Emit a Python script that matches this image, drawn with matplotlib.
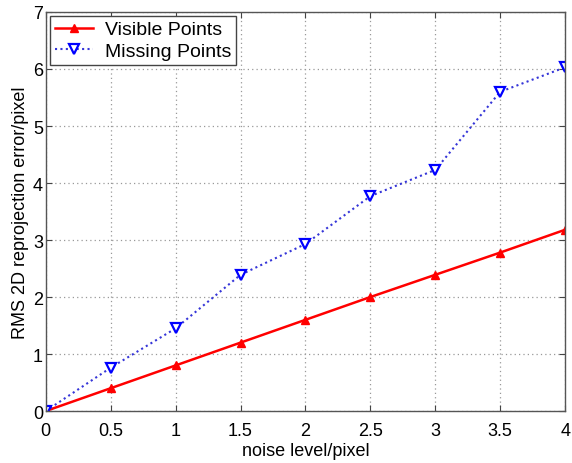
import numpy as np
import matplotlib.pyplot as plt

plt.rcParams["font.family"] = ["Liberation Sans", "DejaVu Sans"]

noise = [0, 0.5, 1, 1.5, 2, 2.5, 3, 3.5, 4]
visible = [0, 0.40, 0.80, 1.20, 1.60, 2.00, 2.39, 2.78, 3.18]
missing = [0, 0.76, 1.45, 2.39, 2.93, 3.77, 4.23, 5.60, 6.03]

fig = plt.figure(figsize=(5.72, 4.64), dpi=100)
ax = fig.add_axes([0.080, 0.112, 0.908, 0.860])

ax.plot(noise, visible, color="red", linewidth=1.8, marker="^", markersize=6,
        markerfacecolor="red", markeredgecolor="red", label="Visible Points")
ax.plot(noise, missing, color="#3535d8", linewidth=1.5, linestyle=(0, (1, 1.6)),
        marker="v", markersize=7, markerfacecolor="white", markeredgecolor="blue",
        markeredgewidth=1.6, label="Missing Points")

ax.set_xlim(0, 4)
ax.set_ylim(0, 7)
ax.set_xticks(noise)
ax.set_xticklabels(["0", "0.5", "1", "1.5", "2", "2.5", "3", "3.5", "4"])
ax.set_yticks(range(8))
ax.grid(True, linestyle=(0, (1, 2.5)), color="#999999", linewidth=0.9)
ax.tick_params(direction="in", labelsize=13, length=4, top=True, right=True,
               color="#444444")
ax.tick_params(axis="x", pad=8)
ax.tick_params(axis="y", pad=2)
for s in ax.spines.values():
    s.set_color("#555555")
    s.set_linewidth(1.0)

ax.set_xlabel("noise level/pixel", fontsize=13, labelpad=2)
ax.set_ylabel("RMS 2D reprojection error/pixel", fontsize=13, labelpad=3)
leg = ax.legend(loc="upper left", fontsize=14, fancybox=False, framealpha=1,
                edgecolor="#444444", borderpad=0.25, handlelength=2.0,
                handletextpad=0.6, borderaxespad=0.2, labelspacing=0.2)

fig.savefig("out.png", dpi=100)
